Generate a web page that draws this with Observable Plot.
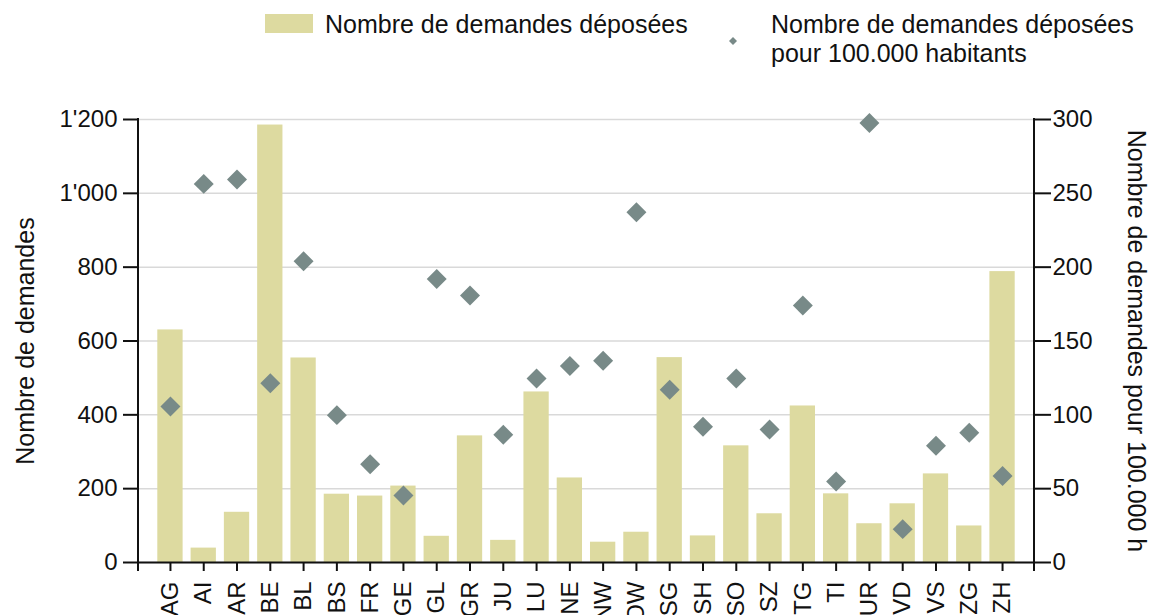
<!DOCTYPE html>
<html>
<head>
<meta charset="utf-8">
<script src="https://cdn.jsdelivr.net/npm/d3@7"></script>
<script src="https://cdn.jsdelivr.net/npm/@observablehq/plot@0.6"></script>
<style>
  html, body { margin: 0; padding: 0; background: #fff; overflow: hidden; }
  body { font-family: "Liberation Sans", Arial, sans-serif; color: #111; }
  #legend { position: relative; width: 1152px; height: 80px; font-size: 25px; line-height: 28.5px; }
  #legend .sw { position: absolute; left: 265px; top: 14px; width: 48px; height: 19px; background: #dddaa0; }
  #legend .t1 { position: absolute; left: 325px; top: 10px; white-space: nowrap; }
  #legend .dm { position: absolute; left: 729px; top: 37px; }
  #legend .t2 { position: absolute; left: 771px; top: 10px; white-space: nowrap; }
</style>
</head>
<body>
<div id="legend">
  <div class="sw"></div>
  <div class="t1">Nombre de demandes déposées</div>
  <svg class="dm" width="8" height="8"><path d="M4,0L8,4L4,8L0,4Z" fill="#788a88"/></svg>
  <div class="t2">Nombre de demandes déposées<br>pour 100.000 habitants</div>
</div>
<div id="chart"></div>
<script>
const cantons = ["AG","AI","AR","BE","BL","BS","FR","GE","GL","GR","JU","LU","NE","NW","OW","SG","SH","SO","SZ","TG","TI","UR","VD","VS","ZG","ZH"];
const demandes = [630, 39, 136, 1185, 554, 185, 180, 207, 71, 343, 60, 462, 229, 55, 82, 555, 72, 316, 132, 424, 186, 105, 159, 240, 99, 788];
const per100k = [105.6, 256.4, 259.4, 121.4, 204, 99.8, 66.6, 45.4, 192, 180.8, 86.5, 124.6, 133, 136.6, 237.2, 117, 92, 124.6, 90, 174, 54.8, 297.7, 22.6, 79, 87.8, 58.5];
const leftTicks = [0, 200, 400, 600, 800, 1000, 1200];
const rightTicks = [0, 50, 100, 150, 200, 250, 300];
const leftLabel = "Nombre de demandes";
const rightLabel = "Nombre de demandes pour 100.000 h";

const ratio = 1200 / 300;
const table = cantons.map((c, i) => ({canton: c, demandes: demandes[i], per100k: per100k[i]}));
const fmt = d3.formatLocale({thousands: "'", grouping: [3], decimal: ".", currency: ["", ""]}).format(",");

function axisLines(index, scales, values, dimensions) {
  const {marginLeft, marginRight, marginTop, marginBottom, width, height} = dimensions;
  const g = d3.create("svg:g").attr("stroke", "#111").attr("stroke-width", 2);
  for (const x of [marginLeft, width - marginRight]) {
    g.append("line").attr("x1", x).attr("x2", x)
      .attr("y1", marginTop - 1).attr("y2", height - marginBottom + 9);
  }
  return g.node();
}

const chart = Plot.plot({
  width: 1152,
  height: 535,
  marginTop: 39,
  marginBottom: 53,
  marginLeft: 138,
  marginRight: 118,
  style: {fontFamily: "'Liberation Sans', Arial, sans-serif", fontSize: "24px", color: "#111", background: "#fff", overflow: "visible"},
  x: {type: "band", domain: cantons, paddingInner: 0.24, paddingOuter: 0.58, round: false, label: null},
  y: {domain: [0, 1200], label: null},
  marks: [
    Plot.gridY(leftTicks, {stroke: "#d9d9d9", strokeOpacity: 1, strokeWidth: 1.5}),
    Plot.barY(table, {x: "canton", y: "demandes", fill: "#dddaa0"}),
    Plot.dot(table, {x: "canton", y: d => d.per100k * ratio, symbol: "diamond2", r: 9, fill: "#788a88", stroke: "none"}),
    Plot.ruleY([0], {stroke: "#111", strokeWidth: 2}),
    axisLines,
    Plot.axisY(leftTicks, {anchor: "left", tickFormat: fmt, tickSize: 15, tickPadding: 6, strokeWidth: 2, label: null, fontSize: 24}),
    Plot.axisY(rightTicks.map(d => d * ratio), {anchor: "right", tickFormat: d => d / ratio, tickSize: 16, tickPadding: 2, strokeWidth: 2, label: null, fontSize: 24}),
    Plot.axisX({anchor: "bottom", tickRotate: -90, tickSize: 9, tickPadding: 10, strokeWidth: 2, label: null, fontSize: 24}),
    Plot.text([leftLabel], {frameAnchor: "left", rotate: -90, dx: -105, textAnchor: "middle", lineAnchor: "bottom", fontSize: 25, fill: "#111"}),
    Plot.text([rightLabel], {frameAnchor: "right", rotate: 90, dx: 93, textAnchor: "middle", lineAnchor: "bottom", fontSize: 25, fill: "#111"})
  ]
});
document.getElementById("chart").appendChild(chart);
</script>
</body>
</html>
